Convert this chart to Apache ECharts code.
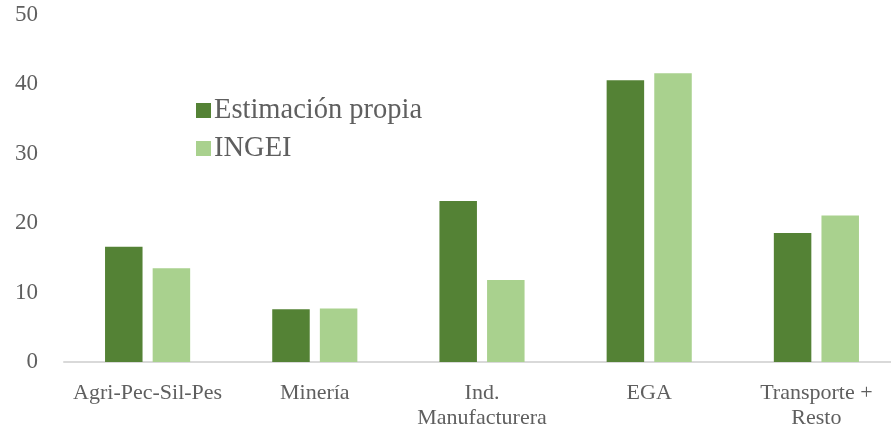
<!DOCTYPE html>
<html>
<head>
<meta charset="utf-8">
<script src="https://cdn.jsdelivr.net/npm/echarts@6/dist/echarts.min.js"></script>
<style>
  html, body { margin: 0; padding: 0; background: #fff; overflow: hidden; }
  /* plot area runs slightly past the right edge of the window */
  #chart { width: 900px; height: 434px; }
</style>
</head>
<body>
<div id="chart"></div>
<script>
// Sector categories
const categories = ['Agri-Pec-Sil-Pes', 'Minería', 'Ind.\nManufacturera', 'EGA', 'Transporte +\nResto'];
// Series values (%)
const estimacionPropia = [16.6, 7.6, 23.2, 40.6, 18.6];
const ingei = [13.5, 7.7, 11.8, 41.6, 21.1];
// Y axis ticks
const yMin = 0, yMax = 50, yStep = 10;

const font = "'Liberation Serif', 'DejaVu Serif', serif";
const textColor = '#5f5f5f';

const chart = echarts.init(document.getElementById('chart'), null, { renderer: 'canvas' });
chart.setOption({
  animation: false,
  backgroundColor: '#ffffff',
  textStyle: { fontFamily: font },
  grid: { left: 64, right: 0, top: 15, bottom: 72, containLabel: false },
  legend: {
    orient: 'vertical',
    left: 191,
    top: 91,
    icon: 'rect',
    itemWidth: 15,
    itemHeight: 15,
    itemGap: 9,
    textStyle: { fontFamily: font, fontSize: 28.5, color: textColor, padding: [0, 0, 0, -2] },
    data: ['Estimación propia', 'INGEI']
  },
  xAxis: {
    type: 'category',
    data: categories,
    axisLine: { lineStyle: { color: '#d9d9d9', width: 2 } },
    axisTick: { show: false },
    axisLabel: {
      fontFamily: font, fontSize: 22, color: textColor,
      margin: 19, lineHeight: 25, interval: 0
    },
    splitLine: { show: false }
  },
  yAxis: {
    type: 'value',
    min: yMin, max: yMax, interval: yStep,
    axisLine: { show: false },
    axisTick: { show: false },
    splitLine: { show: false },
    axisLabel: { fontFamily: font, fontSize: 23, color: textColor, margin: 26 }
  },
  series: [
    {
      name: 'Estimación propia',
      type: 'bar',
      data: estimacionPropia,
      barWidth: 37.5,
      barGap: '27%',
      itemStyle: { color: '#548235' }
    },
    {
      name: 'INGEI',
      type: 'bar',
      data: ingei,
      barWidth: 37.5,
      itemStyle: { color: '#a9d18e' }
    }
  ]
});
</script>
</body>
</html>
